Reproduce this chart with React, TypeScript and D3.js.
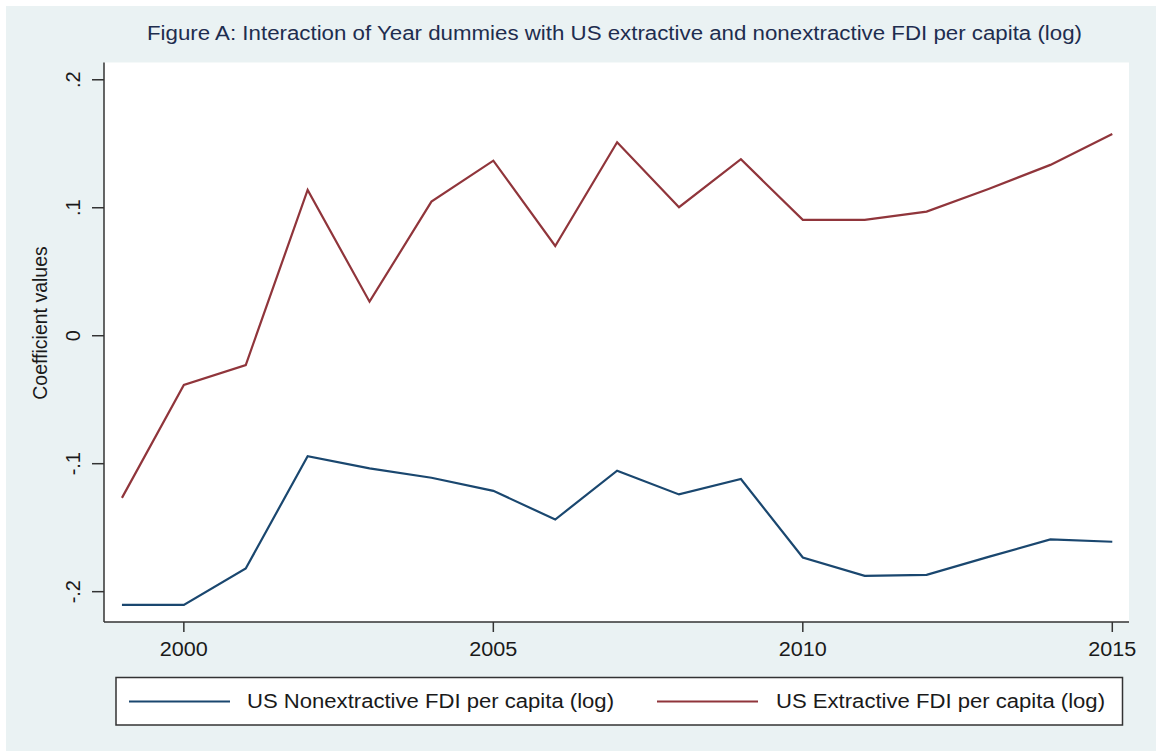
import React from "react";
import * as d3 from "d3";

const years = [1999, 2000, 2001, 2002, 2003, 2004, 2005, 2006, 2007, 2008, 2009, 2010, 2011, 2012, 2013, 2014, 2015];
const nonextractive = [-0.2103, -0.2103, -0.1819, -0.0941, -0.1037, -0.1110, -0.1212, -0.1436, -0.1055, -0.1240, -0.1120, -0.1733, -0.1876, -0.1868, -0.1728, -0.1592, -0.1610];
const extractive = [-0.1267, -0.0385, -0.0229, 0.1139, 0.0266, 0.1048, 0.1368, 0.0701, 0.1512, 0.1004, 0.1379, 0.0905, 0.0905, 0.0970, 0.1147, 0.1335, 0.1577];
const xTicks = [2000, 2005, 2010, 2015];
const yTicks = [0.2, 0.1, 0, -0.1, -0.2];
const yTickLabels = [".2", ".1", "0", "-.1", "-.2"];
const seriesNames = ["US Nonextractive FDI per capita (log)", "US Extractive FDI per capita (log)"];
const seriesColors = ["#1a476f", "#90353b"];
const title = "Figure A: Interaction of Year dummies with US extractive and nonextractive FDI per capita (log)";
const yTitle = "Coefficient values";

const W = 1156, H = 751;
const plot = { left: 104, right: 1129, top: 62.5, bottom: 622 };
const FONT = "'Liberation Sans', Arial, sans-serif";

export default function App() {
  const x = d3.scaleLinear().domain([1998.71, 2015.27]).range([plot.left, plot.right]);
  const y = d3.scaleLinear().domain([-0.2237, 0.2135]).range([plot.bottom, plot.top]);
  const line = d3.line<number>().x((_, i) => x(years[i])).y((v) => y(v));
  const series = [nonextractive, extractive];
  const axisColor = "#333";
  return (
    <svg width={W} height={H} style={{ position: "absolute", left: 0, top: 0, display: "block" }} fontFamily={FONT}>
      <rect x={0} y={0} width={W} height={H} fill="#ffffff" />
      <rect x={6} y={6} width={W - 6} height={H - 6} fill="#eaf2f3" />
      <rect x={plot.left} y={plot.top} width={plot.right - plot.left} height={plot.bottom - plot.top} fill="#ffffff" />
      <text x={147} y={40} fontSize={19.5} fill="#1e2d4f" textLength={935} lengthAdjust="spacingAndGlyphs">{title}</text>
      {/* y axis */}
      <line x1={plot.left} x2={plot.left} y1={plot.top} y2={plot.bottom} stroke={axisColor} strokeWidth={1.5} />
      {yTicks.map((t, i) => (
        <g key={t}>
          <line x1={plot.left - 12} x2={plot.left} y1={y(t)} y2={y(t)} stroke={axisColor} strokeWidth={1.5} />
          <text transform={`translate(80,${y(t)}) rotate(-90)`} textAnchor="middle" fontSize={20} fill="#1a1a1a">{yTickLabels[i]}</text>
        </g>
      ))}
      <text transform={`translate(46.5,323) rotate(-90)`} textAnchor="middle" fontSize={19.5} fill="#1a1a1a">{yTitle}</text>
      {/* x axis */}
      <line x1={plot.left} x2={plot.right} y1={plot.bottom} y2={plot.bottom} stroke={axisColor} strokeWidth={1.5} />
      {xTicks.map((t) => (
        <g key={t}>
          <line x1={x(t)} x2={x(t)} y1={plot.bottom} y2={plot.bottom + 10} stroke={axisColor} strokeWidth={1.5} />
          <text x={x(t) - 24} y={656} fontSize={20} fill="#1a1a1a" textLength={48} lengthAdjust="spacingAndGlyphs">{t}</text>
        </g>
      ))}
      {/* lines */}
      {series.map((s, i) => (
        <path key={i} d={line(s) || ""} fill="none" stroke={seriesColors[i]} strokeWidth={2.2} strokeLinejoin="miter" />
      ))}
      {/* legend */}
      <rect x={116} y={677.5} width={1006.5} height={47.5} fill="#ffffff" stroke={axisColor} strokeWidth={1.5} />
      <line x1={129} x2={230} y1={701.5} y2={701.5} stroke={seriesColors[0]} strokeWidth={2.2} />
      <text x={247} y={708} fontSize={20} fill="#1a1a1a" textLength={367} lengthAdjust="spacingAndGlyphs">{seriesNames[0]}</text>
      <line x1={657} x2={758} y1={701.5} y2={701.5} stroke={seriesColors[1]} strokeWidth={2.2} />
      <text x={776} y={708} fontSize={20} fill="#1a1a1a" textLength={329} lengthAdjust="spacingAndGlyphs">{seriesNames[1]}</text>
    </svg>
  );
}
